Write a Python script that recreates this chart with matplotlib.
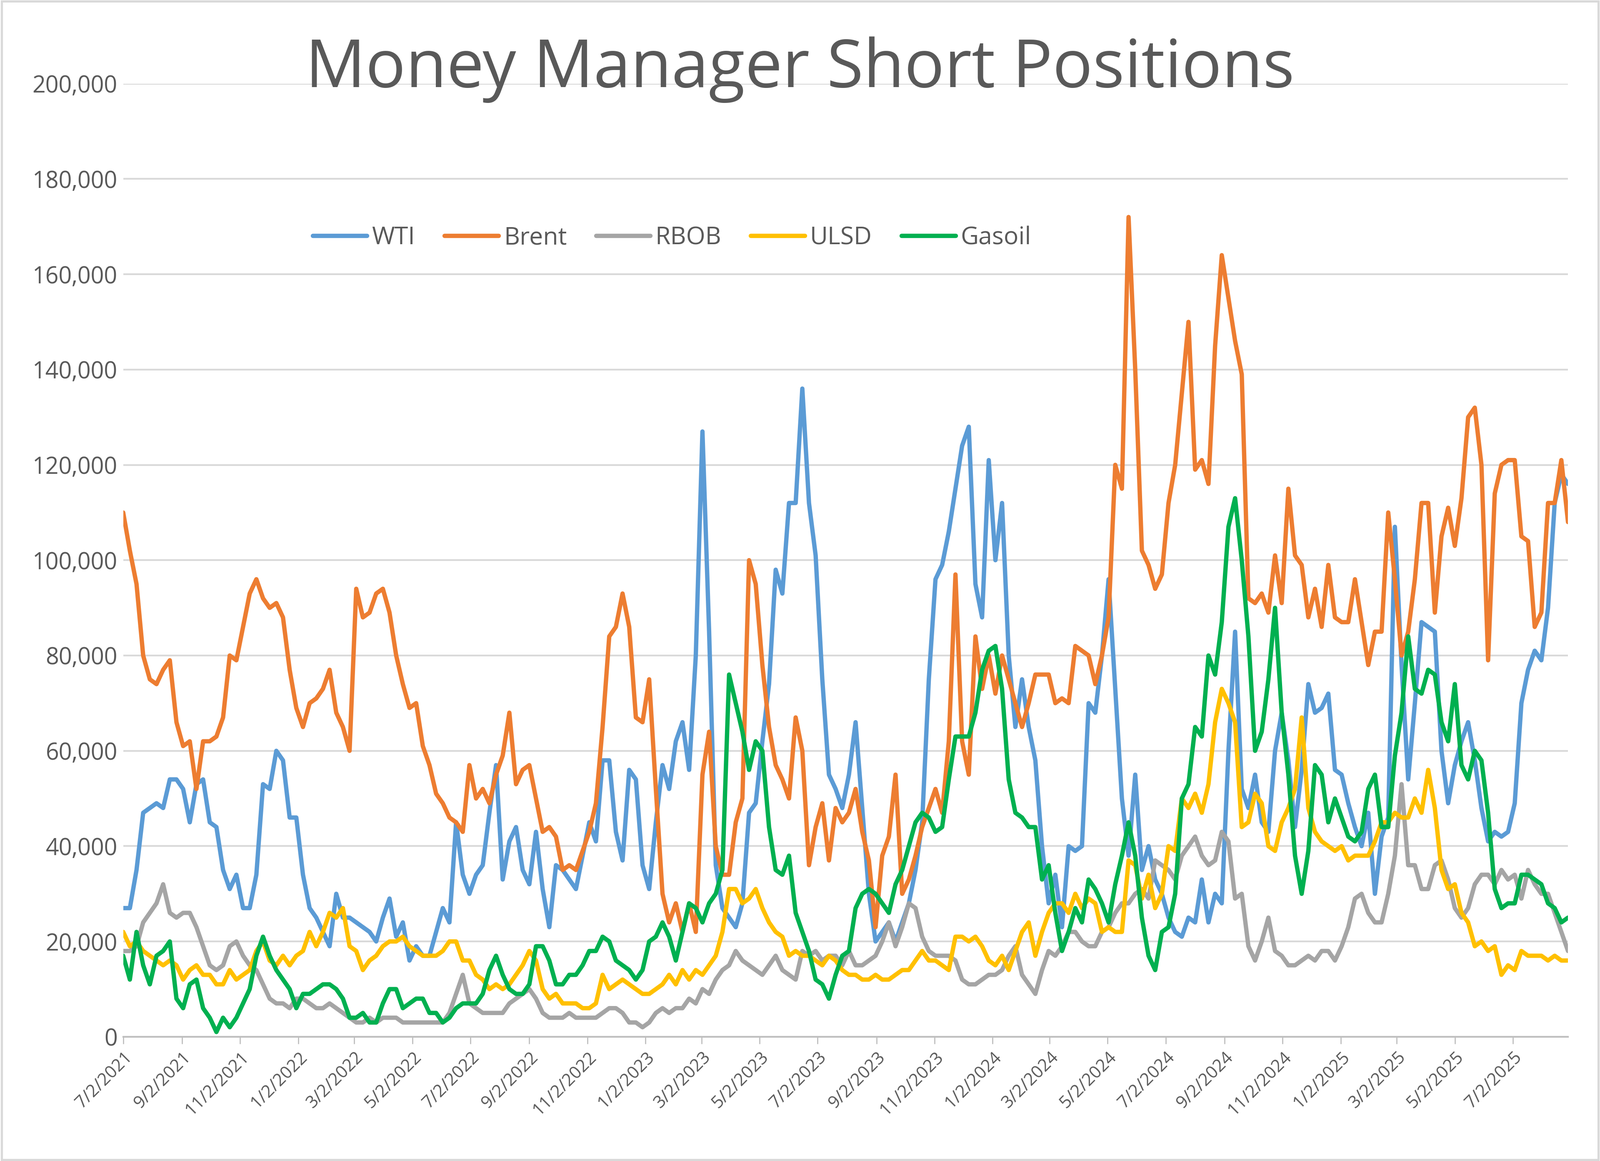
import matplotlib
matplotlib.use("Agg")
import matplotlib.pyplot as plt
import numpy as np
import pandas as pd

title = "Money Manager Short Positions"
series_names = ["WTI", "Brent", "RBOB", "ULSD", "Gasoil"]
colors = ["#5B9BD5", "#ED7D31", "#A5A5A5", "#FFC000", "#00B050"]
tick_labels = ["7/2/2021", "9/2/2021", "11/2/2021", "1/2/2022", "3/2/2022", "5/2/2022", "7/2/2022",
               "9/2/2022", "11/2/2022", "1/2/2023", "3/2/2023", "5/2/2023", "7/2/2023", "9/2/2023",
               "11/2/2023", "1/2/2024", "3/2/2024", "5/2/2024", "7/2/2024", "9/2/2024", "11/2/2024",
               "1/2/2025", "3/2/2025", "5/2/2025", "7/2/2025"]

# values in thousands of contracts, weekly from 7/2/2021
wti = [27,27,35,47,48,49,48,54,54, 52,45,53,54,45,44,35,31,34, 27,27,34,53,52,60,58,46,46,
       34,27,25,22,19,30,25,25, 24,23,22,20,25,29,21,24, 16,19,17,17,22,27,24,45,34,
       30,34,36,47,57,33,41,44,35, 32,43,31,23,36,35,33,31,38, 45,41,58,58,43,37,56,54,36,
       31,45,57,52,62,66,56,80, 127,85,36,27,25,23,28,47, 49,62,74,98,93,112,112,136,112,
       101,75,55,52,48,55,66,48,30, 20,22,24,20,24,28,35,45,75, 96,99,106,115,124,128,95,88,121,
       100,112,80,65,75,65,58,40, 28,34,23,40,39,40,70,68, 80,96,73,50,38,55,35,40,33,
       30,25,22,21,25,24,33,24,30, 28,60,85,52,48,55,45,43,60, 68,58,44,56,74,68,69,72,56,
       55,49,44,40,47,30,42,46, 107,78,54,70,87,86,85,60, 49,57,62,66,58,48,41,43,42,
       43,49,70,77,81,79,90,112,118,116]
brent = [110,102,95,80,75,74,77,79,66, 61,62,52,62,62,63,67,80,79, 86,93,96,92,90,91,88,77,69,
         65,70,71,73,77,68,65,60, 94,88,89,93,94,89,80,74, 69,70,61,57,51,49,46,45,43,
         57,50,52,49,55,59,68,53,56, 57,50,43,44,42,35,36,35,39, 43,49,65,84,86,93,86,67,66,
         75,52,30,24,28,22,28,22, 55,64,40,34,34,45,50,100, 95,78,65,57,54,50,67,60,36,
         44,49,37,48,45,47,52,43,37, 23,38,42,55,30,33,38,44,48, 52,47,62,97,62,55,84,73,80,
         72,80,75,70,65,70,76,76, 76,70,71,70,82,81,80,74, 80,88,120,115,172,140,102,99,94,
         97,112,120,135,150,119,121,116,145, 164,155,146,139,92,91,93,89,101, 91,115,101,99,88,94,86,99,88,
         87,87,96,87,78,85,85,110, 96,80,85,96,112,112,89,105, 111,103,113,130,132,120,79,114,120,
         121,121,105,104,86,89,112,112,121,108]
rbob = [18,18,19,24,26,28,32,26,25, 26,26,23,19,15,14,15,19,20, 17,15,14,11,8,7,7,6,8,
        8,7,6,6,7,6,5,4, 3,3,4,3,4,4,4,3, 3,3,3,3,3,3,5,9,13,
        7,6,5,5,5,5,7,8,9, 10,8,5,4,4,4,5,4,4, 4,4,5,6,6,5,3,3,2,
        3,5,6,5,6,6,8,7, 10,9,12,14,15,18,16,15, 14,13,15,17,14,13,12,18,17,
        18,16,17,17,15,18,15,15,16, 17,20,24,19,23,28,27,21,18, 17,17,17,16,12,11,11,12,13,
        13,14,17,19,13,11,9,14, 18,17,19,22,22,20,19,19, 22,23,26,28,28,30,31,29,37,
        36,35,33,38,40,42,38,36,37, 43,41,29,30,19,16,20,25,18, 17,15,15,16,17,16,18,18,16,
        19,23,29,30,26,24,24,30, 38,53,36,36,31,31,36,37, 33,27,25,27,32,34,34,32,35,
        33,34,29,35,32,30,30,26,22,18]
ulsd = [22,19,20,18,17,16,15,16,15, 12,14,15,13,13,11,11,14,12, 13,14,18,20,16,15,17,15,17,
        18,22,19,22,26,25,27,19, 18,14,16,17,19,20,20,21, 19,18,17,17,17,18,20,20,16,
        16,13,12,10,11,10,11,13,15, 18,16,10,8,9,7,7,7,6, 6,7,13,10,11,12,11,10,9,
        9,10,11,13,11,14,12,14, 13,15,17,22,31,31,28,29, 31,27,24,22,21,17,18,17,17,
        16,15,17,16,14,13,13,12,12, 13,12,12,13,14,14,16,18,16, 16,15,14,21,21,20,21,19,16,
        15,17,14,18,22,24,17,22, 26,28,28,26,30,27,29,28, 22,23,22,22,37,36,29,34,27,
        30,40,39,50,48,51,47,53,66, 73,70,66,44,45,51,49,40,39, 45,48,52,67,48,43,41,40,39,
        40,37,38,38,38,41,45,45, 47,46,46,50,47,56,48,35, 31,32,26,24,19,20,18,19,13,
        15,14,18,17,17,17,16,17,16,16]
gasoil = [17,12,22,15,11,17,18,20,8, 6,11,12,6,4,1,4,2,4, 7,10,17,21,17,14,12,10,6,
          9,9,10,11,11,10,8,4, 4,5,3,3,7,10,10,6, 7,8,8,5,5,3,4,6,7,
          7,7,9,14,17,13,10,9,9, 11,19,19,16,11,11,13,13,15, 18,18,21,20,16,15,14,12,14,
          20,21,24,21,16,22,28,27, 24,28,30,35,76,70,64,56, 62,60,44,35,34,38,26,22,18,
          12,11,8,13,17,18,27,30,31, 30,28,26,32,35,40,45,47,46, 43,44,54,63,63,63,68,77,81,
          82,73,54,47,46,44,44,33, 36,26,18,22,27,24,33,31, 28,24,32,38,45,38,25,17,14,
          22,23,30,50,53,65,63,80,76, 87,107,113,100,84,60,64,75,90, 68,55,38,30,39,57,55,45,50,
          46,42,41,43,52,55,44,44, 59,68,84,73,72,77,76,66, 62,74,57,54,60,58,47,31,27,
          28,28,34,34,33,32,28,27,24,25]

all_series = [wti, brent, rbob, ulsd, gasoil]

fig = plt.figure(figsize=(15.36, 11.144), dpi=250)
ax = fig.add_axes([0.077, 0.107, 0.903, 0.821])
font = "Open Sans"

for name, vals, c in zip(series_names, all_series, colors):
    d = pd.date_range("2021-07-02", periods=len(vals), freq="7D")
    ax.plot(d, np.array(vals) * 1000, color=c, lw=3.0, label=name,
            solid_joinstyle="round", solid_capstyle="round")

ax.set_ylim(0, 200000)
ax.set_yticks(np.arange(0, 200001, 20000))
ax.yaxis.set_major_formatter(matplotlib.ticker.FuncFormatter(lambda v, p: f"{int(v):,}"))
ax.grid(axis="y", color="#D9D9D9", lw=1.2)
ax.set_axisbelow(True)
tick_dates = pd.to_datetime(tick_labels, format="%m/%d/%Y")
ax.set_xticks(tick_dates)
ax.set_xticklabels(tick_labels, rotation=45, ha="right", rotation_mode="anchor",
                   fontsize=12, color="#595959", family=font)
ax.set_xlim(pd.Timestamp("2021-07-02"), pd.Timestamp("2021-07-02") + pd.Timedelta(days=7 * 217))
for lab in ax.get_yticklabels():
    lab.set_family(font)
ax.tick_params(axis="y", labelsize=16, colors="#595959", length=0, pad=4)
ax.tick_params(axis="x", length=5, color="#BFBFBF", pad=3)
for s in ["top", "right", "left"]:
    ax.spines[s].set_visible(False)
ax.spines["bottom"].set_color("#BFBFBF")
ax.spines["bottom"].set_linewidth(1.2)

fig.text(0.5, 0.94, title, ha="center", va="center", fontsize=46, color="#595959", family=font)
leg = fig.legend(loc="center", bbox_to_anchor=(0.42, 0.795), ncol=5, frameon=False,
                 prop={"family": font, "size": 17}, handlelength=2.2, columnspacing=1.2, handletextpad=0.2)
for t in leg.get_texts():
    t.set_color("#595959")
fig.patches.append(matplotlib.patches.Rectangle((0.001, 0.001), 0.998, 0.998, transform=fig.transFigure,
                                                fill=False, edgecolor="#D9D9D9", lw=1.5))
fig.savefig("out.png", dpi=250)
